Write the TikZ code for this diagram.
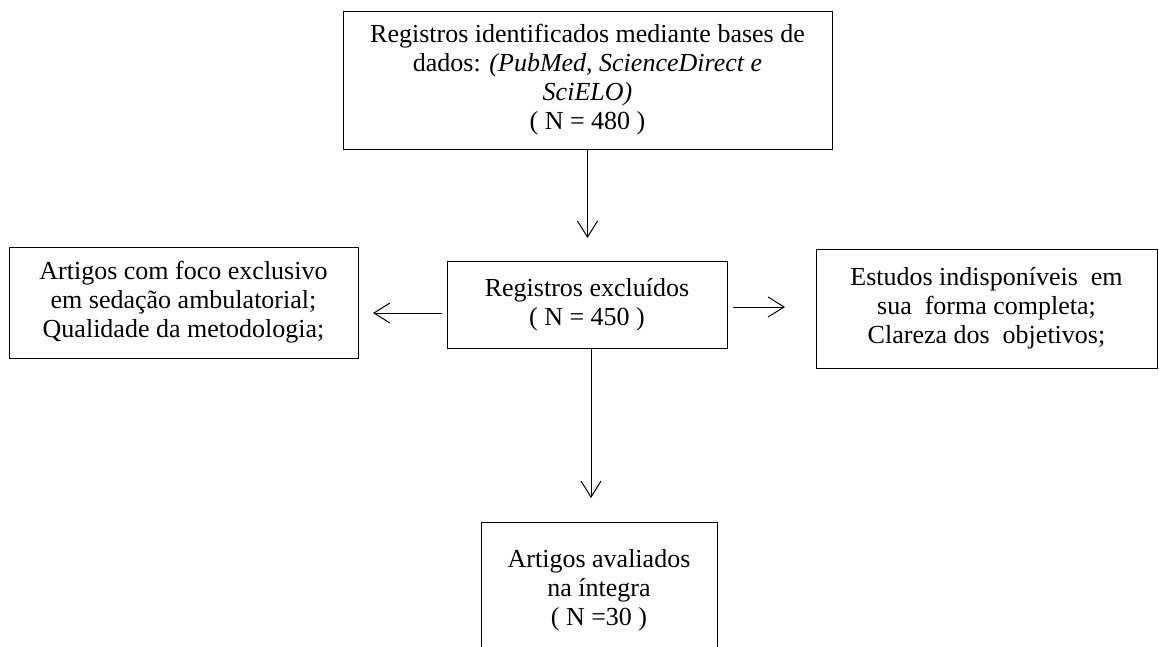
\documentclass[tikz,border=0pt]{standalone}
\usepackage{fontspec}
\setmainfont{Liberation Serif}
\usetikzlibrary{arrows.meta}
\begin{document}
\begin{tikzpicture}[x=0.75pt,y=-0.75pt,
  box/.style={draw=black, line width=0.75pt, align=center, inner sep=0pt,
    font=\fontsize{19.5}{21.75}\selectfont},
  arr/.style={line width=0.75pt, -{Straight Barb[length=12pt,width=15pt]}}]
\useasboundingbox (0,0) rectangle (1159,646);
\clip (0,0) rectangle (1159,646);
\fill[white] (0,0) rectangle (1159,646);
\node[box, minimum width=366.75pt, minimum height=103.5pt] (top) at (587.5,80)
  {Registros identificados mediante bases de\\
   dados: \textit{(PubMed, ScienceDirect e}\\
   \textit{SciELO)}\\
   ( N = 480 )};
\node[box, minimum width=210pt, minimum height=65.25pt] (mid) at (587,304.5)
  {Registros excluídos\\( N = 450 )};
\node[box, minimum width=261.75pt, minimum height=83.25pt] (left) at (183.5,302.5)
  {Artigos com foco exclusivo\\em sedação ambulatorial;\\Qualidade da metodologia;};
\node[box, minimum width=255.75pt, minimum height=89.25pt] (right) at (986.5,308.5)
  {Estudos indisponíveis~ em\\sua~ forma completa;\\Clareza dos~ objetivos;};
\node[box, minimum width=177pt, minimum height=102pt] (bot) at (599,590)
  {Artigos avaliados\\na íntegra\\( N =30 )};
\coordinate (e1) at (587.5,238);
\coordinate (s2) at (442,313);
\coordinate (e2) at (373,313);
\coordinate (s3) at (733,307);
\coordinate (e3) at (785,307);
\coordinate (e4) at (591,498);
\draw[arr] (top.south) -- (e1);
\draw[arr] (s2) -- (e2);
\draw[arr] (s3) -- (e3);
\draw[arr] (mid.south -| e4) -- (e4);
\end{tikzpicture}
\end{document}
